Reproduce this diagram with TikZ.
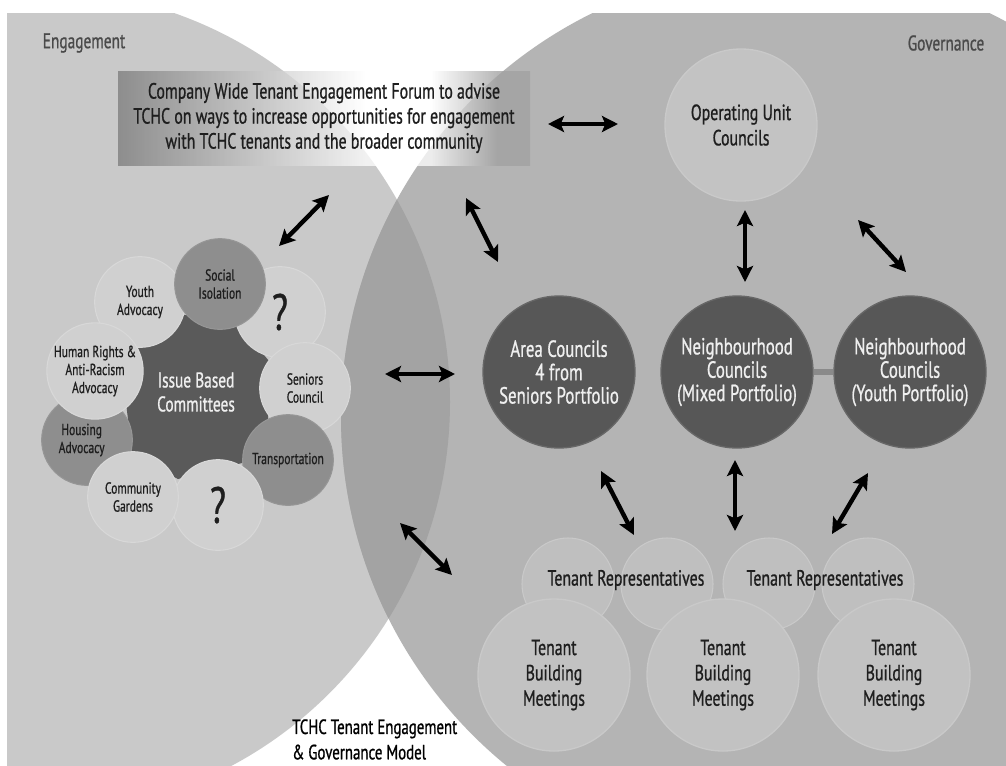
\documentclass[tikz,border=0pt]{standalone}
\usepackage{fontspec}
\setmainfont{PT Sans}[FakeStretch=0.72,FakeBold=0.8]
\usetikzlibrary{arrows.meta}
\definecolor{bgL}{HTML}{C9C9C9}
\definecolor{bgR}{HTML}{B4B4B4}
\definecolor{lens}{HTML}{A3A3A3}
\definecolor{petL}{HTML}{D0D0D0}
\definecolor{petLe}{HTML}{D8D8D8}
\definecolor{petM}{HTML}{8E8E8E}
\definecolor{petMe}{HTML}{969696}
\definecolor{core}{HTML}{5A5A5A}
\definecolor{dark}{HTML}{575757}
\definecolor{darke}{HTML}{676767}
\definecolor{opuc}{HTML}{C3C3C3}
\definecolor{repc}{HTML}{BFBFBF}
\definecolor{meetc}{HTML}{C2C2C2}
\definecolor{edgec}{HTML}{C9C9C9}
\definecolor{txt}{HTML}{1E1E1E}
\definecolor{ltxt}{HTML}{EFEFEF}
\definecolor{lbl}{HTML}{4A4A4A}
\definecolor{linkc}{HTML}{8A8A8A}
\definecolor{fL}{HTML}{7A7A7A}
\definecolor{fR}{HTML}{A0A0A0}
\pgfdeclarehorizontalshading{forumshade}{100bp}{color(0bp)=(fL); color(25bp)=(fL); color(55bp)=(white); color(63bp)=(white); color(71bp)=(fR); color(75bp)=(fR); color(100bp)=(fR)}
\newcommand{\myfs}[2]{\fontsize{#1}{#2}\selectfont}
\tikzset{
  lightpet/.style={circle, fill=petL, draw=petLe, line width=0.8pt, minimum size=68pt, inner sep=0pt, align=center, text=txt, font=\myfs{12pt}{13.5pt}},
  midpet/.style={lightpet, fill=petM, draw=petMe},
  qmark/.style={lightpet, font=\myfs{38pt}{40pt}},
  council/.style={circle, fill=dark, draw=darke, line width=1pt, minimum size=114pt, inner sep=0pt, align=center, text=ltxt, font=\myfs{17.5pt}{17.5pt}},
  lightbig/.style={circle, fill=opuc, draw=edgec, line width=1pt, minimum size=114pt, inner sep=0pt, align=center, text=txt, font=\myfs{16.5pt}{19pt}},
  repcircle/.style={circle, fill=repc, draw=edgec, line width=0.8pt, minimum size=69pt, inner sep=0pt},
  arr/.style={line width=3.3pt, black, {Stealth[length=12pt,width=12pt,inset=2.5pt]}-{Stealth[length=12pt,width=12pt,inset=2.5pt]}},
  corner/.style={text=lbl, font=\myfs{16pt}{18pt}},
}
\begin{document}
\begin{tikzpicture}[x=0.75pt,y=-0.75pt]
\useasboundingbox (0,0) rectangle (1006,765);
\fill[white] (0,0) rectangle (1006,765);
% background circles
\begin{scope}
  \clip (7,13) rectangle (1006,765);
  \fill[bgL] (38,402) circle[radius=309pt];
  \fill[bgR] (791,417) circle[radius=337.5pt];
  \begin{scope}
    \clip (38,402) circle[radius=309pt];
    \fill[lens] (791,417) circle[radius=337.5pt];
  \end{scope}
\end{scope}
% corner labels
\node[corner] (engage) at (84,43) {Engagement};
\node[corner] (govern) at (946,43) {Governance};
% forum box
\node[shade, shading=forumshade, fill opacity=0.75, text opacity=1, minimum width=309pt, minimum height=70.5pt, inner sep=0pt, align=center, text=txt, font=\myfs{16.5pt}{18.75pt}] (forum) at (324,118) {Company Wide Tenant Engagement Forum to advise\\TCHC on ways to increase opportunities for engagement\\with TCHC tenants and the broader community};
% issue based committees core
\fill[core] (269,361) -- (268,419) -- (242,463) -- (178,479) -- (132,455) -- (126,402) -- (135,345) -- (173,314) -- (234,319) -- cycle;
\node[text=ltxt, align=center, font=\myfs{16pt}{18pt}] (issue) at (196,392) {Issue Based\\Committees};
% petals
\node[qmark] (qtop) at (280,312) {?};
\node[lightpet] (youth) at (140,302) {Youth\\Advocacy};
\node[midpet] (social) at (220,284) {Social\\Isolation};
\node[lightpet] (seniors) at (305,388) {Seniors\\Council};
\node[midpet] (transp) at (288,460) {Transportation};
\node[qmark] (qbot) at (218,505) {?};
\node[midpet] (housing) at (87,440) {\hspace*{-8pt}Housing\\\hspace*{-8pt}Advocacy};
\node[lightpet] (garden) at (133,497) {Community\\Gardens};
\node[lightpet] (rights) at (95,371) {Human Rights \&\\Anti-Racism\\Advocacy};
% governance side
\node[lightbig] (opu) at (741,125) {Operating Unit\\Councils};
\node[council] (area) at (559,372) {Area Councils\\4 from\\Seniors Portfolio};
\node[council] (mixed) at (737,372) {Neighbourhood\\Councils\\(Mixed Portfolio)};
\node[council] (youthc) at (910,372) {Neighbourhood\\Councils\\(Youth Portfolio)};
\draw[linkc, line width=4pt] (mixed.east) -- (youthc.west);
% tenant representatives
\node[repcircle] (rep1) at (568,584) {};
\node[repcircle] (rep2) at (667,584) {};
\node[repcircle] (rep3) at (769,584) {};
\node[repcircle] (rep4) at (868,584) {};
\node[text=txt, font=\myfs{16.5pt}{19pt}] (repA) at (626,580) {Tenant Representatives};
\node[text=txt, font=\myfs{16.5pt}{19pt}] (repB) at (825,580) {Tenant Representatives};
% tenant building meetings
\node[lightbig, fill=meetc] (meet1) at (554,675) {Tenant\\Building\\Meetings};
\node[lightbig, fill=meetc] (meet2) at (723,675) {Tenant\\Building\\Meetings};
\node[lightbig, fill=meetc] (meet3) at (894,675) {Tenant\\Building\\Meetings};
% title
\node[anchor=north west, align=left, text=black, font=\myfs{15.5pt}{19pt}, inner sep=0pt] (title) at (292,719) {TCHC Tenant Engagement\\\& Governance Model};
% arrow end points
\coordinate (a1s) at (548,124); \coordinate (a1e) at (618,124);
\coordinate (a2s) at (329,195); \coordinate (a2e) at (279,246);
\coordinate (a3s) at (466,198); \coordinate (a3e) at (498,262);
\coordinate (a4s) at (745,210); \coordinate (a4e) at (745,282);
\coordinate (a5s) at (858,220); \coordinate (a5e) at (906,272);
\coordinate (a6s) at (385,374); \coordinate (a6e) at (455,374);
\coordinate (a7s) at (400,523); \coordinate (a7e) at (452,575);
\coordinate (a8s) at (601,471); \coordinate (a8e) at (634,535);
\coordinate (a9s) at (735,460); \coordinate (a9e) at (735,531);
\coordinate (a10s) at (868,473); \coordinate (a10e) at (832,534);
\draw[arr] (a1s) -- (a1e);
\draw[arr] (a2s) -- (a2e);
\draw[arr] (a3s) -- (a3e);
\draw[arr] (a4s) -- (a4e);
\draw[arr] (a5s) -- (a5e);
\draw[arr] (a6s) -- (a6e);
\draw[arr] (a7s) -- (a7e);
\draw[arr] (a8s) -- (a8e);
\draw[arr] (a9s) -- (a9e);
\draw[arr] (a10s) -- (a10e);
\end{tikzpicture}
\end{document}
